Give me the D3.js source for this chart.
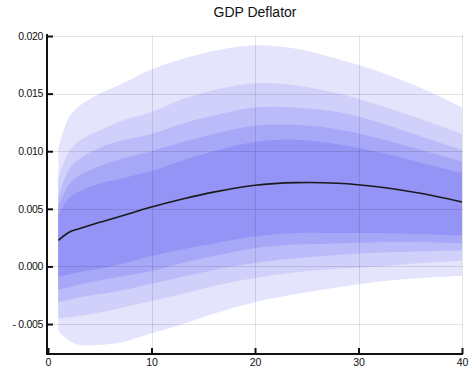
<!DOCTYPE html>
<html><head><meta charset="utf-8">
<script src="https://cdn.jsdelivr.net/npm/d3@7"></script>
<style>body{margin:0;background:#fff}svg{display:block}</style>
</head><body><svg id="c" width="471" height="377"></svg>
<script>
const title = "GDP Deflator";
const horizon = [1,2,3,5,7,10,13,16,20,24,28,32,36,40];
const median  = [0.00226,0.00295,0.00327,0.00383,0.00435,0.00515,0.00585,0.00645,0.00705,0.00727,0.00722,0.00690,0.00635,0.00560];
const upper1 = [0.0102,0.0129,0.0139,0.0150,0.0158,0.0171,0.0180,0.0187,0.0192,0.0189,0.0180,0.0169,0.0155,0.0138];
const upper2 = [0.0077,0.0099,0.0109,0.0118,0.0126,0.0134,0.0145,0.0153,0.0159,0.0157,0.0150,0.0140,0.0128,0.0115];
const upper3 = [0.0060,0.0084,0.0093,0.0103,0.0109,0.0115,0.0124,0.0131,0.0138,0.0138,0.0134,0.0125,0.0113,0.0101];
const upper4 = [0.0052,0.0071,0.0079,0.0087,0.0093,0.0100,0.0108,0.0115,0.0122,0.0123,0.0119,0.0111,0.0101,0.0091];
const upper5 = [0.0045,0.0059,0.0065,0.0072,0.0076,0.0083,0.0092,0.0100,0.0108,0.0110,0.0106,0.0099,0.0090,0.0081];
const lower5 = [-0.0009,-0.0007,-0.0005,-0.0002,0.0002,0.0009,0.0015,0.0020,0.0026,0.0029,0.0029,0.0029,0.0028,0.0027];
const lower4 = [-0.0020,-0.0018,-0.0016,-0.0012,-0.0009,-0.0004,0.0003,0.0009,0.0016,0.0019,0.0020,0.0021,0.0021,0.0020];
const lower3 = [-0.0031,-0.0029,-0.0027,-0.0024,-0.0021,-0.0015,-0.0009,-0.0003,0.0003,0.0007,0.0010,0.0012,0.0013,0.0014];
const lower2 = [-0.0045,-0.0044,-0.0043,-0.0040,-0.0036,-0.0030,-0.0024,-0.0017,-0.0010,-0.0005,-0.0002,0.0000,0.0003,0.0005];
const lower1 = [-0.0056,-0.0064,-0.0068,-0.0068,-0.0066,-0.0058,-0.0050,-0.0041,-0.0031,-0.0024,-0.0018,-0.0013,-0.0010,-0.0008];
const bandColors = ["#e4e4fc","#d0d0fb","#bbbbf9","#a7a7f8","#9494f6"];
const xTicks = [0,10,20,30,40];
const yTicks = [-0.005,0,0.005,0.010,0.015,0.020];

const svg = d3.select("#c");
const L = 47, R = 462, T = 35, B = 354;
const FONT = "Liberation Sans, Arial, sans-serif";
const x = d3.scaleLinear().domain([0,40]).range([48, R]);
const y = d3.scaleLinear().domain([-0.0076, 0.0200]).range([B, 36]);
const curve = d3.curveCatmullRom.alpha(0.5);

const bands = [[lower1,upper1],[lower2,upper2],[lower3,upper3],[lower4,upper4],[lower5,upper5]];
const area = d3.area().x(d=>x(d.h)).y0(d=>y(d.lo)).y1(d=>y(d.hi)).curve(curve);
bands.forEach(([lo,hi],i)=>{
  const d = horizon.map((h,j)=>({h, lo:lo[j], hi:hi[j]}));
  svg.append("path").attr("d", area(d)).attr("fill", bandColors[i]);
});

// grid
const g = svg.append("g").attr("stroke","rgba(0,0,0,0.11)").attr("stroke-width",1);
yTicks.forEach(t=>g.append("line").attr("x1",L).attr("x2",R+1).attr("y1",Math.round(y(t))+0.5).attr("y2",Math.round(y(t))+0.5));
xTicks.filter(t=>t>0).forEach(t=>g.append("line").attr("y1",T).attr("y2",B).attr("x1",Math.round(x(t))+0.5).attr("x2",Math.round(x(t))+0.5));

// median
const line = d3.line().x((d,j)=>x(horizon[j])).y(d=>y(d)).curve(curve);
svg.append("path").attr("d", line(median)).attr("fill","none").attr("stroke","#1a1a1a").attr("stroke-width",1.6);

// axes
const yAxis = d3.axisLeft(y).tickValues(yTicks).tickSize(-6).tickPadding(4)
  .tickFormat(d => d < 0 ? "- " + d3.format(".3f")(-d) : d3.format(".3f")(d));
const ya = svg.append("g").attr("transform",`translate(${L},0)`).call(yAxis);
ya.select(".domain").attr("stroke","#111").attr("stroke-width",2).attr("d",`M0,${T-1}V${B}`);
ya.selectAll(".tick line").attr("stroke","#111").attr("stroke-width",2);
ya.selectAll("text").attr("font-family",FONT).attr("font-size",10.5).attr("fill","#111").attr("letter-spacing",-0.3);

const xAxis = d3.axisBottom(x).tickValues(xTicks).tickSize(-6).tickPadding(5).tickFormat(d3.format("d"));
const xa = svg.append("g").attr("transform",`translate(0,${B})`).call(xAxis);
xa.select(".domain").attr("stroke","#111").attr("stroke-width",2).attr("d",`M${L-1},0H${R+1}`);
xa.selectAll(".tick line").attr("stroke","#111").attr("stroke-width",2);
xa.selectAll("text").attr("font-family",FONT).attr("font-size",10.5).attr("fill","#111");

svg.append("text").attr("x",255).attr("y",17).attr("text-anchor","middle")
  .attr("font-family",FONT).attr("font-size",14).attr("fill","#111").text(title);
</script></body></html>
